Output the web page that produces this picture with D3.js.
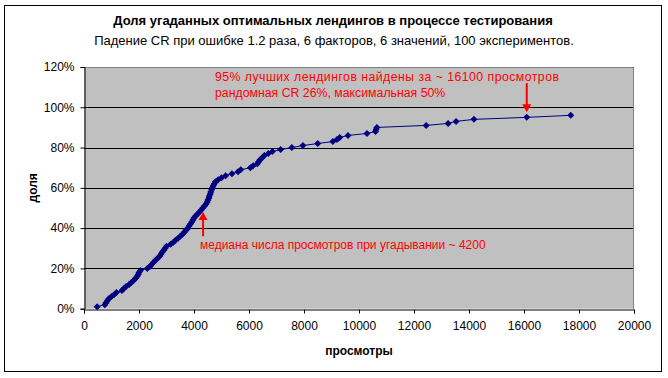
<!DOCTYPE html>
<html><head><meta charset="utf-8">
<script src="https://cdn.jsdelivr.net/npm/d3@7"></script>
<style>body{margin:0;background:#fff}svg{display:block}text{font-family:"Liberation Sans",Arial,sans-serif}</style>
</head><body><svg id="c" width="668" height="378"></svg>
<script>
const title = "Доля угаданных оптимальных лендингов в процессе тестирования";
const subtitle = "Падение CR при ошибке 1.2 раза, 6 факторов, 6 значений, 100 экспериментов.";
const xLabel = "просмотры";
const yLabel = "доля";
const xTicks = [0,2000,4000,6000,8000,10000,12000,14000,16000,18000,20000];
const yTicks = [0,0.2,0.4,0.6,0.8,1.0,1.2];
const views = [480,760,800,850,900,1000,1100,1180,1380,1450,1530,1640,1720,1800,1870,1930,1970,2000,2050,2300,
  2400,2460,2530,2600,2680,2750,2800,2840,2900,2950,3000,3150,3250,3330,3420,3500,3580,3650,3700,3780,
  3820,3870,3920,3960,4000,4060,4130,4200,4260,4320,4380,4440,4480,4510,4540,4560,4590,4610,4640,4670,
  4700,4740,4780,4880,5000,5150,5380,5600,5700,6050,6150,6300,6350,6400,6480,6560,6700,6850,7150,7560,
  7960,8500,9050,9200,9300,9600,10290,10600,10620,10650,12440,13240,13530,14180,16100,17700];
const share = [0.01,0.02,0.03,0.04,0.05,0.06,0.07,0.08,0.09,0.10,0.11,0.12,0.13,0.14,0.15,0.16,0.17,0.18,0.19,0.20,
  0.21,0.22,0.23,0.24,0.25,0.26,0.27,0.28,0.29,0.30,0.31,0.32,0.33,0.34,0.35,0.36,0.37,0.38,0.39,0.40,
  0.41,0.42,0.43,0.44,0.45,0.46,0.47,0.48,0.49,0.50,0.51,0.52,0.53,0.54,0.55,0.56,0.57,0.58,0.59,0.60,
  0.61,0.62,0.63,0.64,0.65,0.66,0.67,0.68,0.69,0.70,0.71,0.72,0.73,0.74,0.75,0.76,0.77,0.78,0.79,0.80,
  0.81,0.82,0.83,0.84,0.85,0.86,0.87,0.88,0.89,0.90,0.91,0.92,0.93,0.94,0.95,0.96];
const note1 = ["95% лучших лендингов найдены за ~ 16100 просмотров", "рандомная CR 26%, максимальная 50%"];
const note1Arrow = {x:16100, y0:1.12, y1:0.975};
const note2 = "медиана числа просмотров при угадывании ~ 4200";
const note2Arrow = {x:4330, y0:0.36, y1:0.48};

const svg = d3.select("#c");
const L=84, R=634, T=67, B=308.7;
const x = d3.scaleLinear().domain([0,20000]).range([L,R]);
const y = d3.scaleLinear().domain([0,1.2]).range([B,T]);

svg.append("rect").attr("x",4.5).attr("y",5.5).attr("width",657).attr("height",366)
  .attr("fill","#fff").attr("stroke","#000").attr("stroke-width",1);
svg.append("rect").attr("x",L).attr("y",T).attr("width",R-L).attr("height",B-T).attr("fill","#c0c0c0");
// grid
svg.append("g").selectAll("line").data(yTicks.filter(d=>d>0)).join("line")
  .attr("x1",L).attr("x2",R).attr("y1",d=>Math.round(y(d))+0.5).attr("y2",d=>Math.round(y(d))+0.5)
  .attr("stroke","#000").attr("stroke-width",1);
// plot border top/right
svg.append("path").attr("d",`M${L},${T+0.5}H${R-0.5}V${B}`).attr("fill","none").attr("stroke","#808080");

const xa = svg.append("g").attr("transform",`translate(0,${Math.round(B)+0.5})`)
  .call(d3.axisBottom(x).tickValues(xTicks).tickFormat(d3.format("d")).tickSize(4).tickPadding(8));
const ya = svg.append("g").attr("transform",`translate(${L+0.5},0)`)
  .call(d3.axisLeft(y).tickValues(yTicks).tickFormat(d3.format(".0%")).tickSize(4).tickPadding(6));
[xa,ya].forEach(a=>{a.select(".domain").attr("stroke","#000");a.selectAll(".tick line").attr("stroke","#000");
  a.selectAll("text").attr("font-size",12).attr("fill","#000").attr("font-family",'"Liberation Sans",Arial,sans-serif');});

// line
const line = d3.line().x((d,i)=>x(views[i])).y((d,i)=>y(share[i]));
svg.append("path").datum(views).attr("d",line).attr("fill","none").attr("stroke","#000080").attr("stroke-width",1);
svg.append("g").selectAll("path").data(views).join("path")
  .attr("transform",(d,i)=>`translate(${x(d)},${y(share[i])})`)
  .attr("d","M0,-3.5L3.5,0L0,3.5L-3.5,0Z").attr("fill","#000080");

// titles
svg.append("text").attr("x",333).attr("y",25).attr("text-anchor","middle").attr("font-weight","bold").attr("font-size",13).text(title);
svg.append("text").attr("x",334).attr("y",45).attr("text-anchor","middle").attr("font-size",13).text(subtitle);
svg.append("text").attr("x",(L+R)/2).attr("y",355).attr("text-anchor","middle").attr("font-weight","bold").attr("font-size",12).text(xLabel);
svg.append("text").attr("transform",`translate(37,${(T+B)/2}) rotate(-90)`).attr("text-anchor","middle").attr("font-weight","bold").attr("font-size",12).text(yLabel);

// annotations
const red="#ff0000";
svg.append("text").attr("x",215).attr("y",81).attr("font-size",12.3).attr("fill",red)
  .attr("textLength",344).attr("lengthAdjust","spacing").text(note1[0]);
svg.append("text").attr("x",215).attr("y",97).attr("font-size",12.3).attr("fill",red).text(note1[1]);
svg.append("text").attr("x",200).attr("y",249).attr("font-size",12).attr("fill",red).text(note2);
function arrow(a){
  const xx=x(a.x), ya0=y(a.y0), ya1=y(a.y1), dir=ya1>ya0?1:-1;
  svg.append("line").attr("x1",xx).attr("x2",xx).attr("y1",ya0).attr("y2",ya1-dir*6).attr("stroke",red).attr("stroke-width",2);
  svg.append("path").attr("d",`M${xx-4.5},${ya1-dir*8}L${xx+4.5},${ya1-dir*8}L${xx},${ya1}Z`).attr("fill",red);
}
arrow(note1Arrow); arrow(note2Arrow);
</script></body></html>
